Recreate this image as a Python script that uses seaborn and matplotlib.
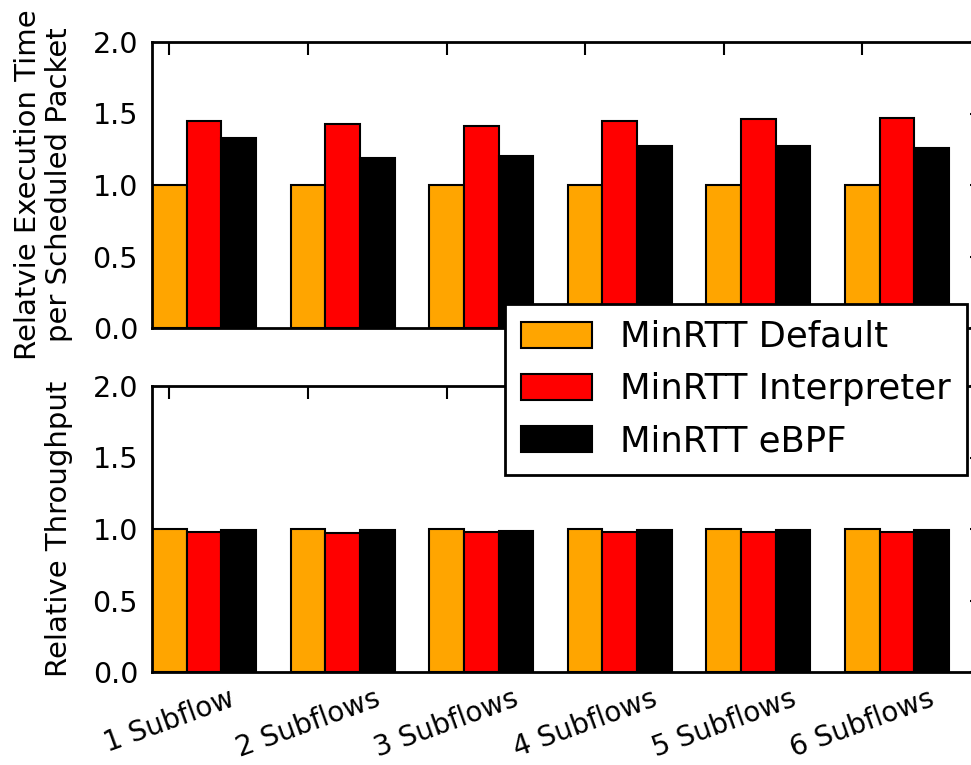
import numpy as np
import pandas as pd
import matplotlib
matplotlib.use("Agg")
import matplotlib.pyplot as plt
import seaborn as sns

categories = ["1 Subflow", "2 Subflows", "3 Subflows", "4 Subflows", "5 Subflows", "6 Subflows"]
series_names = ["MinRTT Default", "MinRTT Interpreter", "MinRTT eBPF"]
colors = ["#FFA500", "#FF0000", "#000000"]

exec_default = [1.00, 1.00, 1.00, 1.00, 1.00, 1.00]
exec_interp = [1.45, 1.43, 1.41, 1.45, 1.46, 1.47]
exec_ebpf = [1.33, 1.19, 1.20, 1.27, 1.27, 1.26]

tput_default = [1.00, 1.00, 1.00, 1.00, 1.00, 1.00]
tput_interp = [0.98, 0.97, 0.98, 0.98, 0.98, 0.98]
tput_ebpf = [0.995, 0.995, 0.985, 0.995, 0.995, 0.995]

yticks = [0.0, 0.5, 1.0, 1.5, 2.0]


def long_df(a, b, c):
    return pd.DataFrame({
        "cat": categories * 3,
        "series": [series_names[0]] * 6 + [series_names[1]] * 6 + [series_names[2]] * 6,
        "value": list(a) + list(b) + list(c),
    })


df_exec = long_df(exec_default, exec_interp, exec_ebpf)
df_tput = long_df(tput_default, tput_interp, tput_ebpf)

sns.set_theme(style="white")
plt.rcParams["font.family"] = ["DejaVu Sans"]
plt.rcParams["axes.linewidth"] = 2.0
plt.rcParams["axes.edgecolor"] = "black"
plt.rcParams["text.color"] = "black"
plt.rcParams["axes.labelcolor"] = "black"
plt.rcParams["xtick.color"] = "black"
plt.rcParams["ytick.color"] = "black"

W, H = 971, 765
fig = plt.figure(figsize=(W / 100, H / 100), dpi=100)
left, right = 152, 982
ax1 = fig.add_axes([left / W, 1 - 328 / H, (right - left) / W, 286 / H])
ax2 = fig.add_axes([left / W, 1 - 672 / H, (right - left) / W, 286 / H])

for ax, df, show_legend in [(ax1, df_exec, False), (ax2, df_tput, True)]:
    sns.barplot(data=df, x="cat", y="value", hue="series", hue_order=series_names,
                palette=colors, saturation=1, width=0.75, edgecolor="black",
                linewidth=1.5, ax=ax, legend=show_legend, errorbar=None)
    ax.set_ylim(0, 2.0)
    ax.set_yticks(yticks)
    ax.set_yticklabels([f"{t:.1f}" for t in yticks], fontsize=20.5)
    ax.set_xlim(-0.375, (right - left) / 138.6 - 0.375)
    ax.set_xticks(np.arange(len(categories)) - 0.25)
    ax.tick_params(direction="in", length=9, width=1.5, top=True, right=True,
                   colors="black", labelcolor="black", pad=10)
    ax.set_xlabel("")
    for s in ax.spines.values():
        s.set_linewidth(2.0)
        s.set_color("black")

ax1.set_xticklabels([])
ax2.set_xticklabels(categories, rotation=20, ha="center", fontsize=20)
ax2.tick_params(axis="x", pad=9)

ax1.set_ylabel("Relatvie Execution Time\nper Scheduled Packet", fontsize=21, linespacing=1.15)
ax2.set_ylabel("Relative Throughput", fontsize=21)
ax1.yaxis.set_label_coords((73 - left) / (right - left), 0.5)
ax2.yaxis.set_label_coords((73 - left) / (right - left), 0.5)

sns.move_legend(ax2, "upper right", bbox_to_anchor=(967 / W, 1 - 304 / H),
                bbox_transform=fig.transFigure, borderaxespad=0, title=None,
                fontsize=25.5, frameon=True, fancybox=False, edgecolor="black",
                framealpha=1, handlelength=2.0, handleheight=0.75,
                handletextpad=0.8, labelspacing=0.52, borderpad=0.45)
leg = ax2.get_legend()
leg.get_frame().set_linewidth(2.0)
leg.set_zorder(10)
for t in leg.get_texts():
    t.set_color("black")

fig.savefig("out.png", dpi=100)
